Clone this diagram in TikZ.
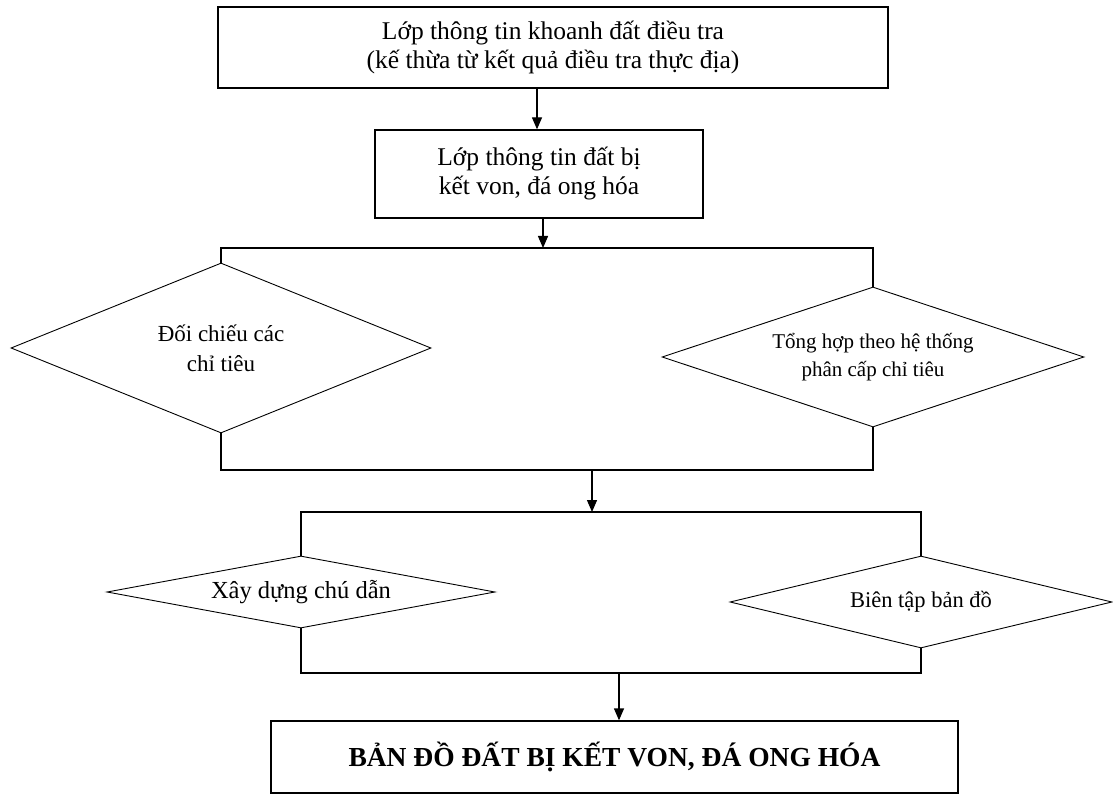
\documentclass[tikz,border=0pt]{standalone}
\usepackage{fontspec}
\setmainfont{Liberation Serif}
\usetikzlibrary{shapes.geometric, arrows.meta}

\tikzset{
    hop/.style={draw, line width=1.3pt, align=center, inner sep=0pt},
    thoi/.style={draw, diamond, line width=0.9pt, align=center, inner sep=0pt},
    muiten/.style={line width=1.3pt, -{Triangle[width=10pt,length=12pt]}},
    noi/.style={line width=1.3pt}
}

\begin{document}
\begin{tikzpicture}[x=1pt, y=-1pt]
        \useasboundingbox (0,0) rectangle (1113,794);

        \node[hop, minimum width=670, minimum height=81, font=\fontsize{25.5}{29}\selectfont]
            (lop1) at (553,47.5) {Lớp thông tin khoanh đất điều tra\\(kế thừa từ kết quả điều tra thực địa)};
        \node[hop, minimum width=328, minimum height=88, font=\fontsize{25.5}{29}\selectfont]
            (lop2) at (539,174) {Lớp thông tin đất bị\\kết von, đá ong hóa};

        \node[thoi, aspect=2.47, minimum width=420, minimum height=170, font=\fontsize{23}{30}\selectfont]
            (doichieu) at (221,348) {Đối chiếu các\\chỉ tiêu};
        \node[thoi, aspect=3.01, minimum width=422, minimum height=140, font=\fontsize{21}{28}\selectfont]
            (tonghop) at (873,357) {Tổng hợp theo hệ thống\\phân cấp chỉ tiêu};

        \node[thoi, aspect=5.39, minimum width=388, minimum height=72, font=\fontsize{24.5}{28}\selectfont]
            (chudan) at (301,592) {Xây dựng chú dẫn};
        \node[thoi, aspect=4.15, minimum width=382, minimum height=92, font=\fontsize{22.5}{28}\selectfont]
            (bientap) at (921,602) {Biên tập bản đồ};

        \node[hop, minimum width=687, minimum height=72, font=\fontsize{27.5}{30}\bfseries]
            (bando) at (614.5,757) {BẢN ĐỒ ĐẤT BỊ KẾT VON, ĐÁ ONG HÓA};

        \coordinate (re1) at (543,248);
        \coordinate (tren1) at (221,248);
        \coordinate (tren2) at (873,248);
        \coordinate (duoi1) at (221,470);
        \coordinate (duoi2) at (873,470);
        \coordinate (gop1) at (592,470);
        \coordinate (re2) at (592,512);
        \coordinate (tren3) at (301,512);
        \coordinate (tren4) at (921,512);
        \coordinate (duoi3) at (301,673);
        \coordinate (duoi4) at (921,673);
        \coordinate (gop2) at (619,673);

        \draw[muiten] (lop1.south -| 537,0) -- (lop2.north -| 537,0);
        \draw[muiten] (lop2.south -| re1) -- (re1);
        \draw[noi] (doichieu.north) -- (tren1) -- (tren2) -- (tonghop.north);
        \draw[noi] (doichieu.south) -- (duoi1) -- (duoi2) -- (tonghop.south);
        \draw[muiten] (gop1) -- (re2);
        \draw[noi] (chudan.north) -- (tren3) -- (tren4) -- (bientap.north);
        \draw[noi] (chudan.south) -- (duoi3) -- (duoi4) -- (bientap.south);
        \draw[muiten] (gop2) -- (gop2 |- bando.north);

    \end{tikzpicture}
\end{document}
